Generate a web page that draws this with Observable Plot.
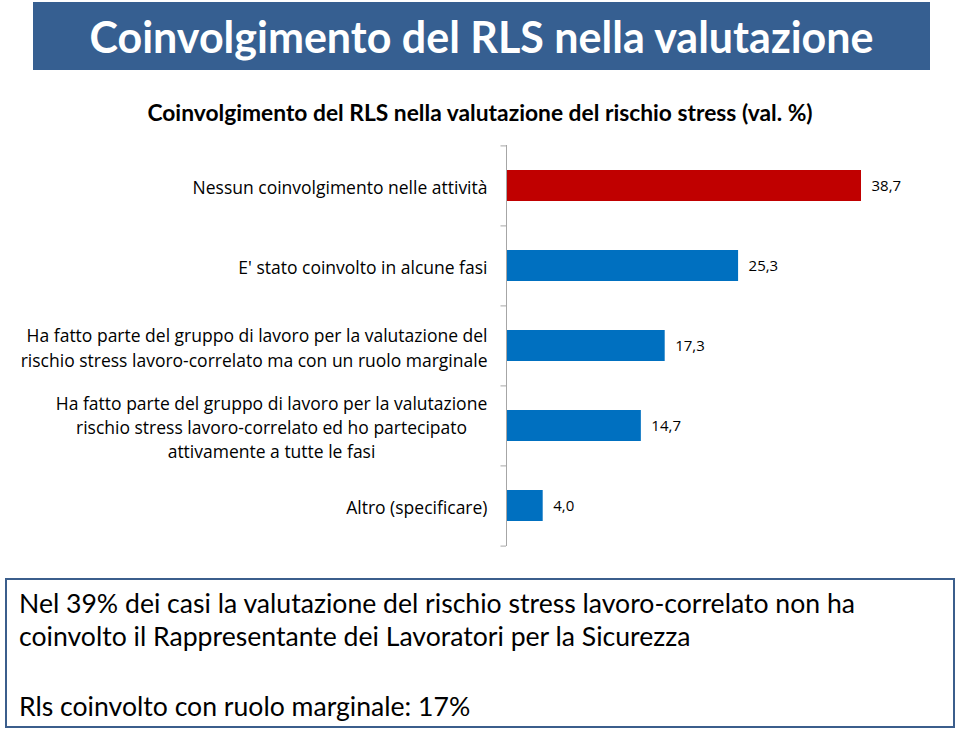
<!DOCTYPE html>
<html><head><meta charset="utf-8">
<script src="https://cdn.jsdelivr.net/npm/d3@7"></script>
<script src="https://cdn.jsdelivr.net/npm/@observablehq/plot@0.6"></script>
<style>
body{margin:0;background:#fff;width:960px;height:733px;position:relative;overflow:hidden}
#title{position:absolute;left:33px;top:2px;width:897px;height:68px;background:#365F91;color:#fff;font-family:Lato,sans-serif;font-weight:bold;font-size:43px;display:flex;align-items:center;justify-content:center}
#sub{position:absolute;left:0;top:98px;width:960px;text-align:center;font-family:Lato,sans-serif;font-weight:bold;font-size:22.8px;color:#000}
#chart{position:absolute;left:0;top:140px}
#box{position:absolute;left:5px;top:578px;width:946px;height:146px;border:2px solid #3B5E8C;font-family:Lato,sans-serif;font-size:26.6px;color:#000;box-sizing:content-box}
#box div{position:absolute;left:12px;white-space:nowrap;line-height:32px}
</style></head><body>
<div id="title">Coinvolgimento del RLS nella valutazione</div>
<div id="sub">Coinvolgimento del RLS nella valutazione del rischio stress (val. %)</div>
<div id="chart"></div>
<div id="box">
<div style="top:7px">Nel 39% dei casi la valutazione del rischio stress lavoro-correlato non ha</div>
<div style="top:40px">coinvolto il Rappresentante dei Lavoratori per la Sicurezza</div>
<div style="top:110px">Rls coinvolto con ruolo marginale: 17%</div>
</div>
<script>
const categories = [
  "Nessun coinvolgimento nelle attività",
  "E' stato coinvolto in alcune fasi",
  "Ha fatto parte del gruppo di lavoro per la valutazione del\nrischio stress lavoro-correlato ma con un ruolo marginale",
  "Ha fatto parte del gruppo di lavoro per la valutazione\nrischio stress lavoro-correlato ed ho partecipato\nattivamente a tutte le fasi",
  "Altro (specificare)"
];
const values = [38.7, 25.3, 17.3, 14.7, 4.0];
const colors = ["#C00000", "#0070C0", "#0070C0", "#0070C0", "#0070C0"];
const valueLabels = ["38,7", "25,3", "17,3", "14,7", "4,0"];

const data = categories.map((c, i) => ({cat: c, value: values[i], color: colors[i], label: valueLabels[i], i}));
const step = 80.2;

const chart = Plot.plot({
  width: 960, height: 420,
  marginLeft: 506, marginRight: 99, marginTop: 5, marginBottom: 14,
  x: {domain: [0, 38.7], axis: null},
  y: {domain: categories, paddingInner: 0.61, paddingOuter: 0.305, axis: null},
  marks: [
    Plot.barX(data, {y: "cat", x: "value", fill: "color"}),
    Plot.ruleX([0], {stroke: "#A6A6A6"}),
    Plot.ruleY(data, {y: "cat", x1: -0.6, x2: 0, dy: -step/2, stroke: "#A6A6A6"}),
    Plot.ruleY(data.slice(-1), {y: "cat", x1: -0.6, x2: 0, dy: step/2, stroke: "#A6A6A6"}),
    Plot.text(data, {y: "cat", x: "value", text: "label", dx: 10, textAnchor: "start", fontSize: 15, fontFamily: "Open Sans", fill: "#000"}),
    Plot.text(data.filter(d => d.i !== 3), {y: "cat", x: 0, text: "cat", dx: -19, textAnchor: "end", fontSize: 17.5, lineHeight: 1.43, fontFamily: "Open Sans", fill: "#000"}),
    Plot.text(data.filter(d => d.i === 3), {y: "cat", x: 0, text: "cat", dx: -235, textAnchor: "middle", fontSize: 17.5, lineHeight: 1.37, fontFamily: "Open Sans", fill: "#000"})
  ]
});
document.getElementById("chart").appendChild(chart);
</script>
</body></html>
